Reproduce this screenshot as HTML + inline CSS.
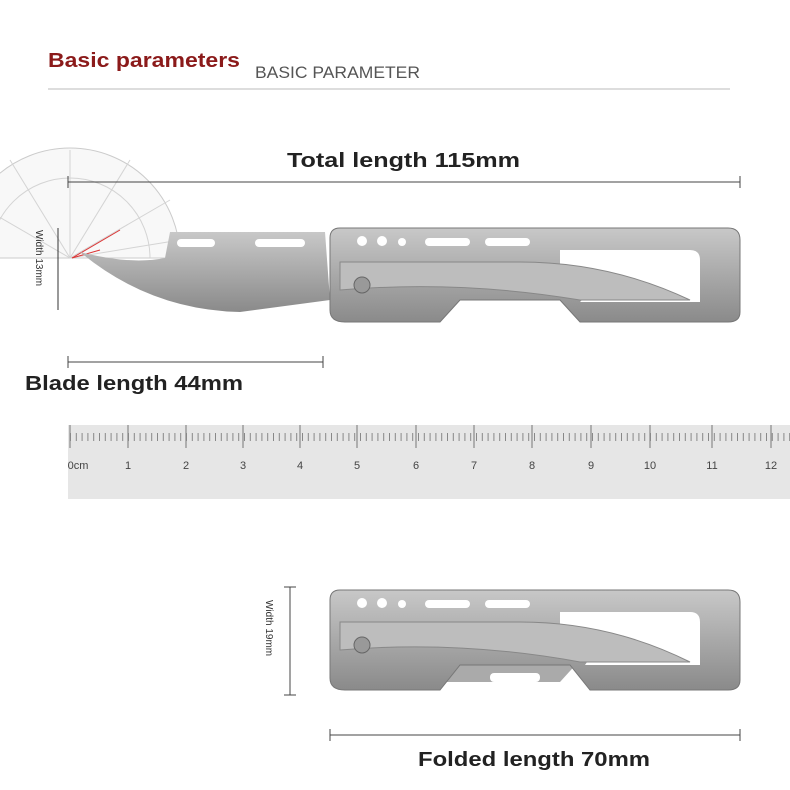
<!DOCTYPE html>
<html><head><style>
body{margin:0;background:#fff}
svg{display:block}
text{font-family:"Liberation Sans",sans-serif}
</style></head><body>
<svg width="790" height="790" viewBox="0 0 790 790" xmlns="http://www.w3.org/2000/svg">
<rect width="790" height="790" fill="#fff"/>
<text x="48" y="67" font-size="20" font-weight="bold" fill="#8b1a1a" textLength="192" lengthAdjust="spacingAndGlyphs">Basic parameters</text>
<text x="255" y="78" font-size="17" fill="#555" textLength="165" lengthAdjust="spacingAndGlyphs">BASIC PARAMETER</text>
<line x1="48" y1="89" x2="730" y2="89" stroke="#bbb" stroke-width="1"/>
<g opacity="0.5">
<path d="M-40 258 A110 110 0 0 1 180 258 Z" fill="#f2f2f2" stroke="#999"/>
<path d="M-10 258 A80 80 0 0 1 150 258" fill="none" stroke="#aaa"/>
<g stroke="#aaa">
<line x1="70" y1="258" x2="-30" y2="200"/><line x1="70" y1="258" x2="10" y2="160"/>
<line x1="70" y1="258" x2="70" y2="150"/><line x1="70" y1="258" x2="130" y2="160"/>
<line x1="70" y1="258" x2="170" y2="200"/><line x1="70" y1="258" x2="180" y2="240"/>
</g>
</g>
<line x1="58" y1="228" x2="58" y2="310" stroke="#333"/>
<text transform="translate(36,230) rotate(90)" font-size="10" fill="#333">Width 13mm</text>
<line x1="72" y1="258" x2="120" y2="230" stroke="#d33"/>
<line x1="72" y1="258" x2="100" y2="250" stroke="#d33"/>
<text x="287" y="167" font-size="20" font-weight="bold" fill="#222" textLength="233" lengthAdjust="spacingAndGlyphs">Total length 115mm</text>
<line x1="68" y1="182" x2="740" y2="182" stroke="#444"/>
<line x1="68" y1="176" x2="68" y2="188" stroke="#444"/><line x1="740" y1="176" x2="740" y2="188" stroke="#444"/>
<defs><linearGradient id="m" x1="0" y1="0" x2="0" y2="1"><stop offset="0" stop-color="#c8c8c8"/><stop offset="0.5" stop-color="#a9a9a9"/><stop offset="1" stop-color="#8a8a8a"/></linearGradient></defs>
<path d="M170 232 L325 232 L330 300 L240 312 Q150 310 80 252 Q130 265 165 258 Z" fill="url(#m)"/>
<path d="M330 238 Q330 228 340 228 L728 228 Q740 228 740 240 L740 312 Q740 322 728 322 L580 322 L560 300 L460 300 L440 322 L345 322 Q330 322 330 310 Z" fill="url(#m)" stroke="#777"/>
<path d="M560 250 L690 250 Q700 250 700 260 L700 302 L580 302 Q600 285 560 268 Z" fill="#fff"/>
<path d="M340 262 L520 262 Q610 262 690 300 L580 300 Q460 280 340 290 Z" fill="#bdbdbd" stroke="#888"/>
<circle cx="362" cy="285" r="8" fill="#999" stroke="#666"/>
<g fill="#fff"><circle cx="362" cy="241" r="5"/><circle cx="382" cy="241" r="5"/><circle cx="402" cy="242" r="4"/>
<rect x="425" y="238" width="45" height="8" rx="4"/><rect x="485" y="238" width="45" height="8" rx="4"/>
<rect x="177" y="239" width="38" height="8" rx="4"/><rect x="255" y="239" width="50" height="8" rx="4"/></g>
<line x1="68" y1="362" x2="323" y2="362" stroke="#444"/>
<line x1="68" y1="356" x2="68" y2="368" stroke="#444"/><line x1="323" y1="356" x2="323" y2="368" stroke="#444"/>
<text x="25" y="390" font-size="20" font-weight="bold" fill="#222" textLength="218" lengthAdjust="spacingAndGlyphs">Blade length 44mm</text>
<rect x="68" y="425" width="722" height="74" fill="#e6e6e6"/>
<g stroke="#777">
<line x1="70" y1="425" x2="70" y2="448"/><line x1="128" y1="425" x2="128" y2="448"/><line x1="186" y1="425" x2="186" y2="448"/><line x1="243" y1="425" x2="243" y2="448"/><line x1="300" y1="425" x2="300" y2="448"/><line x1="357" y1="425" x2="357" y2="448"/><line x1="416" y1="425" x2="416" y2="448"/><line x1="474" y1="425" x2="474" y2="448"/><line x1="532" y1="425" x2="532" y2="448"/><line x1="591" y1="425" x2="591" y2="448"/><line x1="650" y1="425" x2="650" y2="448"/><line x1="712" y1="425" x2="712" y2="448"/><line x1="771" y1="425" x2="771" y2="448"/>
</g>
<line x1="70" y1="437" x2="790" y2="437" stroke="#888" stroke-width="8" stroke-dasharray="1 4.8"/>
<g font-family="Liberation Serif" font-size="11" fill="#444" text-anchor="middle">
<text x="78" y="469">0cm</text><text x="128" y="469">1</text><text x="186" y="469">2</text><text x="243" y="469">3</text><text x="300" y="469">4</text><text x="357" y="469">5</text><text x="416" y="469">6</text><text x="474" y="469">7</text><text x="532" y="469">8</text><text x="591" y="469">9</text><text x="650" y="469">10</text><text x="712" y="469">11</text><text x="771" y="469">12</text></g>
<line x1="290" y1="587" x2="290" y2="695" stroke="#444"/>
<line x1="284" y1="587" x2="296" y2="587" stroke="#444"/><line x1="284" y1="695" x2="296" y2="695" stroke="#444"/>
<text transform="translate(266,600) rotate(90)" font-size="10" fill="#333">Width 19mm</text>
<path d="M405 682 L560 682 L580 660 L470 660 Z" fill="#aaa"/>
<path d="M330 600 Q330 590 340 590 L728 590 Q740 590 740 602 L740 680 Q740 690 728 690 L590 690 L570 665 L460 665 L440 690 L345 690 Q330 690 330 678 Z" fill="url(#m)" stroke="#777"/>
<path d="M560 612 L690 612 Q700 612 700 622 L700 665 L585 665 Q600 645 560 630 Z" fill="#fff"/>
<path d="M340 622 L520 622 Q610 622 690 662 L580 662 Q460 640 340 650 Z" fill="#bdbdbd" stroke="#888"/>
<circle cx="362" cy="645" r="8" fill="#999" stroke="#666"/>
<g fill="#fff"><circle cx="362" cy="603" r="5"/><circle cx="382" cy="603" r="5"/><circle cx="402" cy="604" r="4"/>
<rect x="425" y="600" width="45" height="8" rx="4"/><rect x="485" y="600" width="45" height="8" rx="4"/>
<rect x="490" y="673" width="50" height="9" rx="4"/></g>
<line x1="330" y1="735" x2="740" y2="735" stroke="#444"/>
<line x1="330" y1="729" x2="330" y2="741" stroke="#444"/><line x1="740" y1="729" x2="740" y2="741" stroke="#444"/>
<text x="418" y="766" font-size="20" font-weight="bold" fill="#222" textLength="232" lengthAdjust="spacingAndGlyphs">Folded length 70mm</text>
</svg>
</body></html>
